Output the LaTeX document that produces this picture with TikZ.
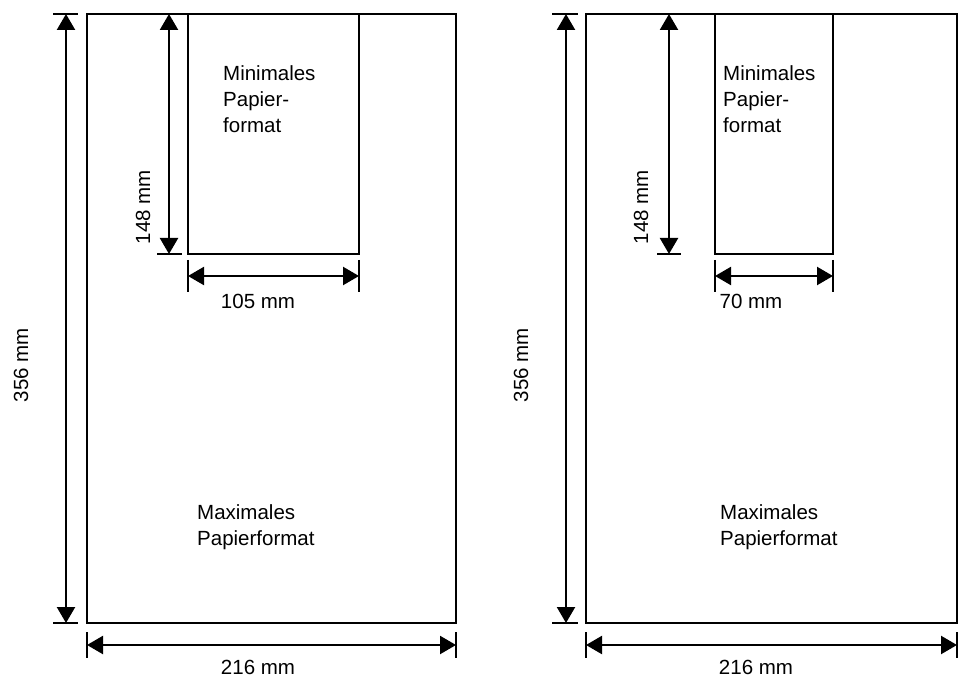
\documentclass[tikz,border=0pt]{standalone}
\usepackage{fontspec}
\setmainfont{Liberation Sans}
\usetikzlibrary{arrows.meta}
\begin{document}
\begin{tikzpicture}[x=1pt,y=-1pt,
  paper/.style={line width=2.2pt},
  dimline/.style={line width=2.2pt,{Triangle[length=16pt,width=18pt]}-{Triangle[length=16pt,width=18pt]}},
  tickline/.style={line width=2pt},
  lbl/.style={font=\fontsize{20.5}{26}\selectfont, inner sep=0pt},
  txt/.style={lbl, align=left, anchor=base west}]
\useasboundingbox (0,0) rectangle (964,679);
% ---------- left panel ----------
\coordinate (LAtl) at (87,14);
\coordinate (LAbr) at (456,623);
\coordinate (LBtl) at (188,14);
\coordinate (LBbr) at (359,254);
\draw[paper] (LAtl) rectangle (LAbr);
\draw[paper] (LBtl) rectangle (LBbr);
% 356 dimension
\coordinate (Lv1a) at (53,14);  \coordinate (Lv1b) at (78,14);
\coordinate (Lv2a) at (53,623); \coordinate (Lv2b) at (78,623);
\coordinate (Lvt) at (66,14);   \coordinate (Lvb) at (66,623);
\draw[tickline] (Lv1a) -- (Lv1b);
\draw[tickline] (Lv2a) -- (Lv2b);
\draw[dimline] (Lvt) -- (Lvb);
% 148 dimension
\coordinate (Lst) at (169,14); \coordinate (Lsb) at (169,254);
\coordinate (Lsa) at (157,254); \coordinate (Lsc) at (182,254);
\draw[tickline] (Lsa) -- (Lsc);
\draw[dimline] (Lst) -- (Lsb);
% 105 dimension
\coordinate (Lw1a) at (188,260); \coordinate (Lw1b) at (188,292);
\coordinate (Lw2a) at (359,260); \coordinate (Lw2b) at (359,292);
\coordinate (Lwl) at (188,276);  \coordinate (Lwr) at (359,276);
\draw[tickline] (Lw1a) -- (Lw1b);
\draw[tickline] (Lw2a) -- (Lw2b);
\draw[dimline] (Lwl) -- (Lwr);
% 216 dimension
\coordinate (Lh1a) at (87,632);  \coordinate (Lh1b) at (87,658);
\coordinate (Lh2a) at (456,632); \coordinate (Lh2b) at (456,658);
\coordinate (Lhl) at (87,645);   \coordinate (Lhr) at (456,645);
\draw[tickline] (Lh1a) -- (Lh1b);
\draw[tickline] (Lh2a) -- (Lh2b);
\draw[dimline] (Lhl) -- (Lhr);
% texts (base anchor = baseline of last line)
\node[txt] (Lmin) at (223,133) {Minimales\\Papier-\\format};
\node[txt] (Lmax) at (197,545) {Maximales\\Papierformat};
\node[lbl, rotate=90] (L148) at (143,207) {148 mm};
\node[lbl, rotate=90] (L356) at (21,365) {356 mm};
\node[lbl] (L105) at (258,301) {105 mm};
\node[lbl] (L216) at (258,667) {216 mm};
% ---------- right panel ----------
\coordinate (RAtl) at (586,14);
\coordinate (RAbr) at (957,623);
\coordinate (RBtl) at (715,14);
\coordinate (RBbr) at (833,254);
\draw[paper] (RAtl) rectangle (RAbr);
\draw[paper] (RBtl) rectangle (RBbr);
% 356 dimension
\coordinate (Rv1a) at (552,14);  \coordinate (Rv1b) at (578,14);
\coordinate (Rv2a) at (552,623); \coordinate (Rv2b) at (578,623);
\coordinate (Rvt) at (566,14);   \coordinate (Rvb) at (566,623);
\draw[tickline] (Rv1a) -- (Rv1b);
\draw[tickline] (Rv2a) -- (Rv2b);
\draw[dimline] (Rvt) -- (Rvb);
% 148 dimension
\coordinate (Rst) at (669,14); \coordinate (Rsb) at (669,254);
\coordinate (Rsa) at (657,254); \coordinate (Rsc) at (681,254);
\draw[tickline] (Rsa) -- (Rsc);
\draw[dimline] (Rst) -- (Rsb);
% 70 dimension
\coordinate (Rw1a) at (715,260); \coordinate (Rw1b) at (715,292);
\coordinate (Rw2a) at (833,260); \coordinate (Rw2b) at (833,292);
\coordinate (Rwl) at (715,276);  \coordinate (Rwr) at (833,276);
\draw[tickline] (Rw1a) -- (Rw1b);
\draw[tickline] (Rw2a) -- (Rw2b);
\draw[dimline] (Rwl) -- (Rwr);
% 216 dimension
\coordinate (Rh1a) at (586,632); \coordinate (Rh1b) at (586,658);
\coordinate (Rh2a) at (957,632); \coordinate (Rh2b) at (957,658);
\coordinate (Rhl) at (586,645);  \coordinate (Rhr) at (957,645);
\draw[tickline] (Rh1a) -- (Rh1b);
\draw[tickline] (Rh2a) -- (Rh2b);
\draw[dimline] (Rhl) -- (Rhr);
% texts
\node[txt] (Rmin) at (723,133) {Minimales\\Papier-\\format};
\node[txt] (Rmax) at (720,545) {Maximales\\Papierformat};
\node[lbl, rotate=90] (R148) at (641,207) {148 mm};
\node[lbl, rotate=90] (R356) at (521,365) {356 mm};
\node[lbl] (R70) at (751,301) {70 mm};
\node[lbl] (R216) at (756,667) {216 mm};
\end{tikzpicture}
\end{document}
